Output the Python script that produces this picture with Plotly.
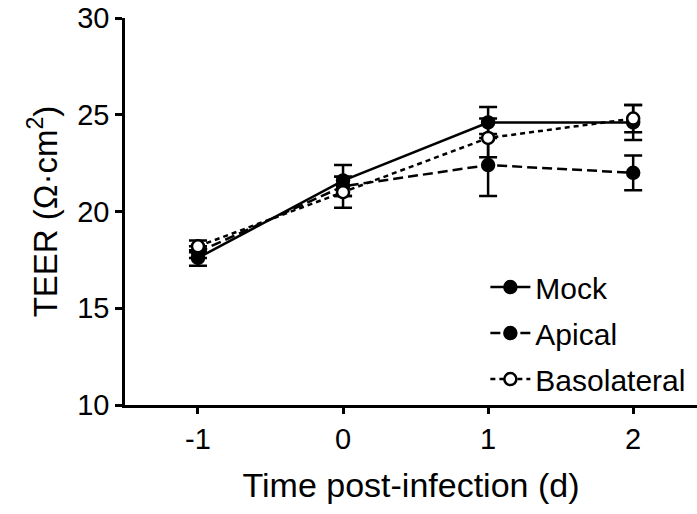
import plotly.graph_objects as go

days = [-1, 0, 1, 2]
mock = [17.6, 21.6, 24.6, 24.6]
mock_err = [0.4, 0.8, 0.8, 0.9]
apical = [17.9, 21.3, 22.4, 22.0]
apical_err = [0.3, 0.5, 1.6, 0.9]
baso = [18.2, 21.0, 23.8, 24.8]
baso_err = [0.3, 0.8, 1.0, 0.7]

series = [
    ("Mock", mock, mock_err, "solid", "black"),
    ("Apical", apical, apical_err, "10px,5px", "black"),
    ("Basolateral", baso, baso_err, "5px,4px", "white"),
]

fig = go.Figure()
for i, (name, vals, err, dash, fill) in enumerate(series):
    fig.add_trace(go.Scatter(
        x=days, y=vals, name=name, mode="lines+markers",
        legendgroup=f"g{i}",
        line=dict(color="black", width=2.5, dash=dash),
        marker=dict(symbol="circle", size=12, color=fill, line=dict(color="black", width=2.5)),
        error_y=dict(type="data", array=err, visible=True, color="black", thickness=2.5, width=9),
    ))

fig.update_layout(
    width=697, height=514,
    margin=dict(l=125, r=0, t=18, b=109),
    plot_bgcolor="white", paper_bgcolor="white",
    font=dict(family="Liberation Sans, Arial, sans-serif", color="black", size=29),
    showlegend=True,
    legend=dict(x=0.63, y=0.372, xanchor="left", yanchor="top",
                font=dict(size=30), bgcolor="rgba(0,0,0,0)",
                tracegroupgap=4, itemwidth=40),
    xaxis=dict(range=[-1.503, 2.44], tickvals=days, ticktext=["-1", "0", "1", "2"],
               showline=True, linecolor="black", linewidth=2.5,
               ticks="outside", ticklen=6, tickwidth=2.5, tickcolor="black",
               showgrid=False, zeroline=False,
               tickfont=dict(size=29),
               title=dict(text="Time post-infection (d)", font=dict(size=34), standoff=20)),
    yaxis=dict(range=[10, 30], tickvals=[10, 15, 20, 25, 30],
               showline=True, linecolor="black", linewidth=2.5,
               ticks="outside", ticklen=7, tickwidth=2.5, tickcolor="black",
               showgrid=False, zeroline=False,
               tickfont=dict(size=29),
               title=dict(text="TEER (Ω·cm<sup>2</sup>)", font=dict(size=33), standoff=10)),
)

fig.write_html("out.html")
